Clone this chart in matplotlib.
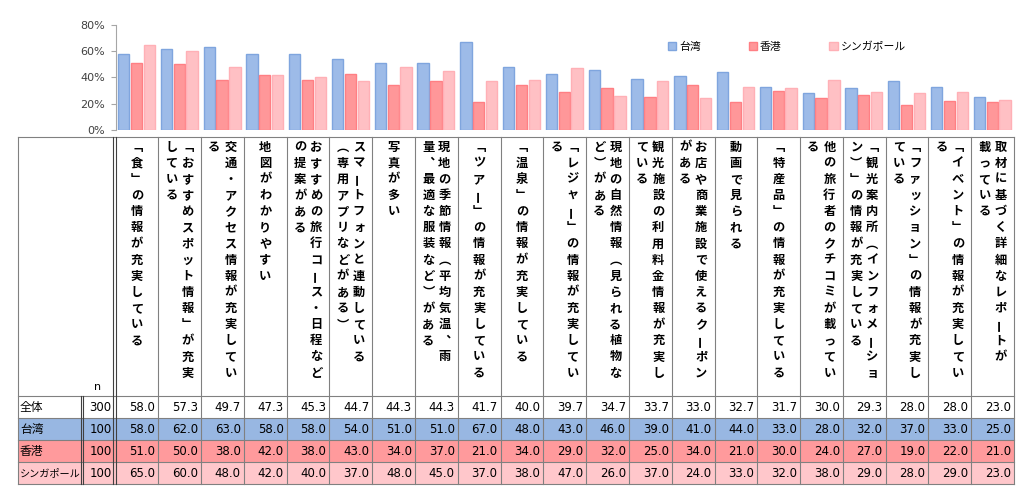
import numpy as np
import matplotlib
matplotlib.use("Agg")
import matplotlib.pyplot as plt
from matplotlib.patches import Rectangle

plt.rcParams['font.family'] = ['DejaVu Sans', 'Noto Sans CJK JP']

# ---- data ----
items = [
    "「食」の情報が充実している",
    "「おすすめスポット情報」が充実/している",
    "交通・アクセス情報が充実してい/る",
    "地図がわかりやすい",
    "おすすめの旅行コース・日程など/の提案がある",
    "スマートフォンと連動している/（専用アプリなどがある）",
    "写真が多い",
    "現地の季節情報（平均気温、雨/量、最適な服装など）がある",
    "「ツアー」の情報が充実している",
    "「温泉」の情報が充実している",
    "「レジャー」の情報が充実してい/る",
    "現地の自然情報（見られる植物な/ど）がある",
    "観光施設の利用料金情報が充実し/ている",
    "お店や商業施設で使えるクーポン/がある",
    "動画で見られる",
    "「特産品」の情報が充実している",
    "他の旅行者のクチコミが載ってい/る",
    "「観光案内所（インフォメーショ/ン）」の情報が充実している",
    "「ファッション」の情報が充実し/ている",
    "「イベント」の情報が充実してい/る",
    "取材に基づく詳細なレポートが/載っている",
]
row_labels = ["全体", "台湾", "香港", "シンガポール"]
row_n = [300, 100, 100, 100]
overall = [58.0, 57.3, 49.7, 47.3, 45.3, 44.7, 44.3, 44.3, 41.7, 40.0, 39.7,
           34.7, 33.7, 33.0, 32.7, 31.7, 30.0, 29.3, 28.0, 28.0, 23.0]
taiwan = [58.0, 62.0, 63.0, 58.0, 58.0, 54.0, 51.0, 51.0, 67.0, 48.0, 43.0,
          46.0, 39.0, 41.0, 44.0, 33.0, 28.0, 32.0, 37.0, 33.0, 25.0]
hongkong = [51.0, 50.0, 38.0, 42.0, 38.0, 43.0, 34.0, 37.0, 21.0, 34.0, 29.0,
            32.0, 25.0, 34.0, 21.0, 30.0, 24.0, 27.0, 19.0, 22.0, 21.0]
singapore = [65.0, 60.0, 48.0, 42.0, 40.0, 37.0, 48.0, 45.0, 37.0, 38.0, 47.0,
             26.0, 37.0, 24.0, 33.0, 32.0, 38.0, 29.0, 28.0, 29.0, 23.0]

series = [taiwan, hongkong, singapore]
series_names = row_labels[1:]
bar_face = ['#9DBBE8', '#FF9799', '#FFC0C4']
bar_edge = ['#7FA5DE', '#FF7F84', '#FFB0B6']
row_fill = ['white', '#98B7E2', '#FF9A9C', '#FFC7CB']

# ---- layout (pixels) ----
W, H = 1024, 494
L, C1, C2, X0 = 18, 82, 114.5, 115.5
ncol = len(items)
CW = (1014 - X0) / ncol
R = X0 + ncol * CW
TOP, HB, RH = 137, 396, 22
BOT = HB + RH * len(row_labels)

fig = plt.figure(figsize=(W / 100, H / 100), dpi=100)

# ---- bar chart ----
ax = fig.add_axes([X0 / W, 1 - 130 / H, (R - X0) / W, 105 / H])
idx = np.arange(ncol)
offs = [-0.30, 0.0, 0.30]
for k, vals in enumerate(series):
    ax.bar(idx + 0.49 + offs[k], vals, width=0.265, color=bar_face[k],
           edgecolor=bar_edge[k], linewidth=1.0, label=series_names[k])
ax.set_xlim(0, ncol)
ax.set_ylim(0, 80)
ax.set_yticks([0, 20, 40, 60, 80])
ax.set_yticklabels([f"{v}%" for v in [0, 20, 40, 60, 80]])
for s in ['top', 'right', 'bottom']:
    ax.spines[s].set_visible(False)
ax.spines['left'].set_color('#A6A6A6')
ax.tick_params(axis='x', bottom=False, labelbottom=False)
ax.tick_params(axis='y', length=3.5, color='#A6A6A6', labelsize=8,
               labelcolor='#404040', pad=4)
ax.patch.set_visible(False)

ax.legend(loc='center', bbox_to_anchor=(787 / W, 1 - 47 / H),
          bbox_transform=fig.transFigure, ncol=3, frameon=False,
          handlelength=0.75, handleheight=0.75, handletextpad=0.3,
          columnspacing=4.4, prop={'family': 'Noto Sans CJK JP', 'size': 7.8})

# ---- table ----
tx = fig.add_axes([0, 0, 1, 1])
tx.set_xlim(0, W)
tx.set_ylim(H, 0)
tx.axis('off')
tx.patch.set_visible(False)

for r in range(len(row_labels)):
    tx.add_patch(Rectangle((L, HB + r * RH), R - L, RH, facecolor=row_fill[r],
                           edgecolor='none', zorder=1))

grid = '#808080'
for y in [TOP, HB] + [HB + RH * k for k in range(1, len(row_labels) + 1)]:
    tx.plot([L, R], [y, y], color=grid, lw=0.8, zorder=2)
tx.plot([L, L], [TOP, BOT], color=grid, lw=0.8, zorder=2)
for i in range(1, ncol + 1):
    x = X0 + i * CW
    tx.plot([x, x], [TOP, BOT], color=grid, lw=0.8, zorder=2)
# double lines
for x in [C1 - 1, C1 + 1]:
    tx.plot([x, x], [HB, BOT], color='#404040', lw=0.8, zorder=3)
for x in [C2 - 1.2, C2 + 1.0]:
    tx.plot([x, x], [TOP, BOT], color='#404040', lw=0.8, zorder=3)

tx.text(98, 387, "n", ha='center', va='center', fontsize=8, zorder=4)

# vertical header text (brackets swapped for vertical forms, ー rotated)
vert = {'「': '﹁', '」': '﹂', '（': '︵', '）': '︶', '、': '︑'}
for i, lab in enumerate(items):
    lines = lab.split('/')
    cx = X0 + (i + 0.5) * CW
    for k, line in enumerate(lines):
        x = cx + (len(lines) - 1) / 2 * 16 - k * 16
        for j, ch in enumerate(line):
            rot = 90 if ch == 'ー' else 0
            tx.text(x, 147 + j * 16.15, vert.get(ch, ch), ha='center', va='center',
                    rotation=rot, fontsize=8.8, fontweight='bold',
                    family='Noto Sans CJK JP', zorder=4)

# body rows
all_rows = [overall, taiwan, hongkong, singapore]
for r, lab in enumerate(row_labels):
    yc = HB + (r + 0.5) * RH
    fs = 7.3 if len(lab) > 3 else 8.5
    tx.text(L + 2, yc, lab, ha='left', va='center', fontsize=fs,
            family='Noto Sans CJK JP', zorder=4)
    tx.text(C2 - 3, yc, str(row_n[r]), ha='right', va='center', fontsize=8.5, zorder=4)
    for i, v in enumerate(all_rows[r]):
        tx.text(X0 + (i + 1) * CW - 3, yc, f"{v:.1f}", ha='right', va='center',
                fontsize=8.5, zorder=4)

fig.savefig("out.png", dpi=100)
